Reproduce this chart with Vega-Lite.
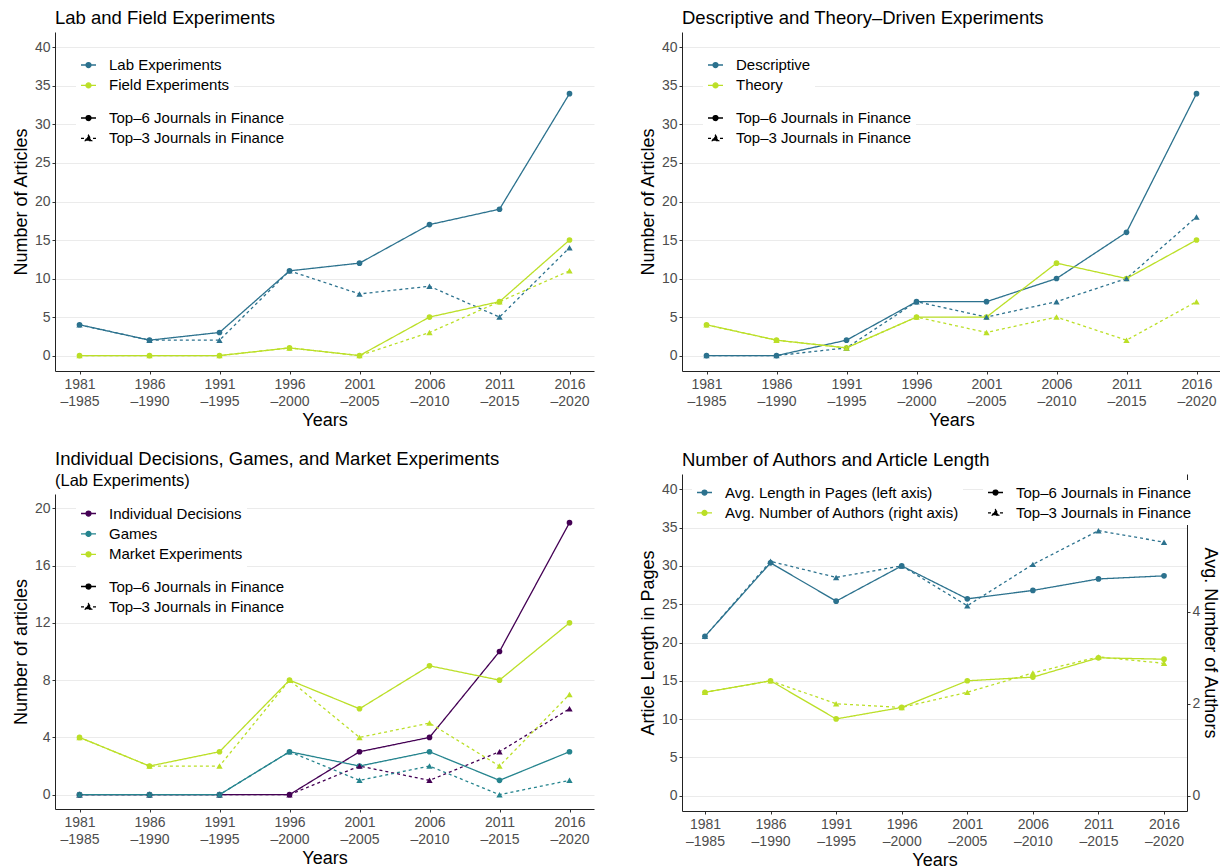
{
  "$schema": "https://vega.github.io/schema/vega-lite/v6.json",
  "padding": {"left": 12, "top": 8, "right": 0, "bottom": 0},
  "columns": 2,
  "align": "none",
  "spacing": {"row": 21, "column": 45},
  "resolve": {"scale": {"color": "independent", "strokeDash": "independent"}},
  "datasets": {
    "p1": [
      {"p":"1981-1985","s":"Lab Experiments","j":"Top–6 Journals in Finance","v":4},
      {"p":"1986-1990","s":"Lab Experiments","j":"Top–6 Journals in Finance","v":2},
      {"p":"1991-1995","s":"Lab Experiments","j":"Top–6 Journals in Finance","v":3},
      {"p":"1996-2000","s":"Lab Experiments","j":"Top–6 Journals in Finance","v":11},
      {"p":"2001-2005","s":"Lab Experiments","j":"Top–6 Journals in Finance","v":12},
      {"p":"2006-2010","s":"Lab Experiments","j":"Top–6 Journals in Finance","v":17},
      {"p":"2011-2015","s":"Lab Experiments","j":"Top–6 Journals in Finance","v":19},
      {"p":"2016-2020","s":"Lab Experiments","j":"Top–6 Journals in Finance","v":34},
      {"p":"1981-1985","s":"Lab Experiments","j":"Top–3 Journals in Finance","v":4},
      {"p":"1986-1990","s":"Lab Experiments","j":"Top–3 Journals in Finance","v":2},
      {"p":"1991-1995","s":"Lab Experiments","j":"Top–3 Journals in Finance","v":2},
      {"p":"1996-2000","s":"Lab Experiments","j":"Top–3 Journals in Finance","v":11},
      {"p":"2001-2005","s":"Lab Experiments","j":"Top–3 Journals in Finance","v":8},
      {"p":"2006-2010","s":"Lab Experiments","j":"Top–3 Journals in Finance","v":9},
      {"p":"2011-2015","s":"Lab Experiments","j":"Top–3 Journals in Finance","v":5},
      {"p":"2016-2020","s":"Lab Experiments","j":"Top–3 Journals in Finance","v":14},
      {"p":"1981-1985","s":"Field Experiments","j":"Top–6 Journals in Finance","v":0},
      {"p":"1986-1990","s":"Field Experiments","j":"Top–6 Journals in Finance","v":0},
      {"p":"1991-1995","s":"Field Experiments","j":"Top–6 Journals in Finance","v":0},
      {"p":"1996-2000","s":"Field Experiments","j":"Top–6 Journals in Finance","v":1},
      {"p":"2001-2005","s":"Field Experiments","j":"Top–6 Journals in Finance","v":0},
      {"p":"2006-2010","s":"Field Experiments","j":"Top–6 Journals in Finance","v":5},
      {"p":"2011-2015","s":"Field Experiments","j":"Top–6 Journals in Finance","v":7},
      {"p":"2016-2020","s":"Field Experiments","j":"Top–6 Journals in Finance","v":15},
      {"p":"1981-1985","s":"Field Experiments","j":"Top–3 Journals in Finance","v":0},
      {"p":"1986-1990","s":"Field Experiments","j":"Top–3 Journals in Finance","v":0},
      {"p":"1991-1995","s":"Field Experiments","j":"Top–3 Journals in Finance","v":0},
      {"p":"1996-2000","s":"Field Experiments","j":"Top–3 Journals in Finance","v":1},
      {"p":"2001-2005","s":"Field Experiments","j":"Top–3 Journals in Finance","v":0},
      {"p":"2006-2010","s":"Field Experiments","j":"Top–3 Journals in Finance","v":3},
      {"p":"2011-2015","s":"Field Experiments","j":"Top–3 Journals in Finance","v":7},
      {"p":"2016-2020","s":"Field Experiments","j":"Top–3 Journals in Finance","v":11}
    ],
    "p2": [
      {"p":"1981-1985","s":"Descriptive","j":"Top–6 Journals in Finance","v":0},
      {"p":"1986-1990","s":"Descriptive","j":"Top–6 Journals in Finance","v":0},
      {"p":"1991-1995","s":"Descriptive","j":"Top–6 Journals in Finance","v":2},
      {"p":"1996-2000","s":"Descriptive","j":"Top–6 Journals in Finance","v":7},
      {"p":"2001-2005","s":"Descriptive","j":"Top–6 Journals in Finance","v":7},
      {"p":"2006-2010","s":"Descriptive","j":"Top–6 Journals in Finance","v":10},
      {"p":"2011-2015","s":"Descriptive","j":"Top–6 Journals in Finance","v":16},
      {"p":"2016-2020","s":"Descriptive","j":"Top–6 Journals in Finance","v":34},
      {"p":"1981-1985","s":"Descriptive","j":"Top–3 Journals in Finance","v":0},
      {"p":"1986-1990","s":"Descriptive","j":"Top–3 Journals in Finance","v":0},
      {"p":"1991-1995","s":"Descriptive","j":"Top–3 Journals in Finance","v":1},
      {"p":"1996-2000","s":"Descriptive","j":"Top–3 Journals in Finance","v":7},
      {"p":"2001-2005","s":"Descriptive","j":"Top–3 Journals in Finance","v":5},
      {"p":"2006-2010","s":"Descriptive","j":"Top–3 Journals in Finance","v":7},
      {"p":"2011-2015","s":"Descriptive","j":"Top–3 Journals in Finance","v":10},
      {"p":"2016-2020","s":"Descriptive","j":"Top–3 Journals in Finance","v":18},
      {"p":"1981-1985","s":"Theory","j":"Top–6 Journals in Finance","v":4},
      {"p":"1986-1990","s":"Theory","j":"Top–6 Journals in Finance","v":2},
      {"p":"1991-1995","s":"Theory","j":"Top–6 Journals in Finance","v":1},
      {"p":"1996-2000","s":"Theory","j":"Top–6 Journals in Finance","v":5},
      {"p":"2001-2005","s":"Theory","j":"Top–6 Journals in Finance","v":5},
      {"p":"2006-2010","s":"Theory","j":"Top–6 Journals in Finance","v":12},
      {"p":"2011-2015","s":"Theory","j":"Top–6 Journals in Finance","v":10},
      {"p":"2016-2020","s":"Theory","j":"Top–6 Journals in Finance","v":15},
      {"p":"1981-1985","s":"Theory","j":"Top–3 Journals in Finance","v":4},
      {"p":"1986-1990","s":"Theory","j":"Top–3 Journals in Finance","v":2},
      {"p":"1991-1995","s":"Theory","j":"Top–3 Journals in Finance","v":1},
      {"p":"1996-2000","s":"Theory","j":"Top–3 Journals in Finance","v":5},
      {"p":"2001-2005","s":"Theory","j":"Top–3 Journals in Finance","v":3},
      {"p":"2006-2010","s":"Theory","j":"Top–3 Journals in Finance","v":5},
      {"p":"2011-2015","s":"Theory","j":"Top–3 Journals in Finance","v":2},
      {"p":"2016-2020","s":"Theory","j":"Top–3 Journals in Finance","v":7}
    ],
    "p3": [
      {"p":"1981-1985","s":"Individual Decisions","j":"Top–6 Journals in Finance","v":0},
      {"p":"1986-1990","s":"Individual Decisions","j":"Top–6 Journals in Finance","v":0},
      {"p":"1991-1995","s":"Individual Decisions","j":"Top–6 Journals in Finance","v":0},
      {"p":"1996-2000","s":"Individual Decisions","j":"Top–6 Journals in Finance","v":0},
      {"p":"2001-2005","s":"Individual Decisions","j":"Top–6 Journals in Finance","v":3},
      {"p":"2006-2010","s":"Individual Decisions","j":"Top–6 Journals in Finance","v":4},
      {"p":"2011-2015","s":"Individual Decisions","j":"Top–6 Journals in Finance","v":10},
      {"p":"2016-2020","s":"Individual Decisions","j":"Top–6 Journals in Finance","v":19},
      {"p":"1981-1985","s":"Individual Decisions","j":"Top–3 Journals in Finance","v":0},
      {"p":"1986-1990","s":"Individual Decisions","j":"Top–3 Journals in Finance","v":0},
      {"p":"1991-1995","s":"Individual Decisions","j":"Top–3 Journals in Finance","v":0},
      {"p":"1996-2000","s":"Individual Decisions","j":"Top–3 Journals in Finance","v":0},
      {"p":"2001-2005","s":"Individual Decisions","j":"Top–3 Journals in Finance","v":2},
      {"p":"2006-2010","s":"Individual Decisions","j":"Top–3 Journals in Finance","v":1},
      {"p":"2011-2015","s":"Individual Decisions","j":"Top–3 Journals in Finance","v":3},
      {"p":"2016-2020","s":"Individual Decisions","j":"Top–3 Journals in Finance","v":6},
      {"p":"1981-1985","s":"Games","j":"Top–6 Journals in Finance","v":0},
      {"p":"1986-1990","s":"Games","j":"Top–6 Journals in Finance","v":0},
      {"p":"1991-1995","s":"Games","j":"Top–6 Journals in Finance","v":0},
      {"p":"1996-2000","s":"Games","j":"Top–6 Journals in Finance","v":3},
      {"p":"2001-2005","s":"Games","j":"Top–6 Journals in Finance","v":2},
      {"p":"2006-2010","s":"Games","j":"Top–6 Journals in Finance","v":3},
      {"p":"2011-2015","s":"Games","j":"Top–6 Journals in Finance","v":1},
      {"p":"2016-2020","s":"Games","j":"Top–6 Journals in Finance","v":3},
      {"p":"1981-1985","s":"Games","j":"Top–3 Journals in Finance","v":0},
      {"p":"1986-1990","s":"Games","j":"Top–3 Journals in Finance","v":0},
      {"p":"1991-1995","s":"Games","j":"Top–3 Journals in Finance","v":0},
      {"p":"1996-2000","s":"Games","j":"Top–3 Journals in Finance","v":3},
      {"p":"2001-2005","s":"Games","j":"Top–3 Journals in Finance","v":1},
      {"p":"2006-2010","s":"Games","j":"Top–3 Journals in Finance","v":2},
      {"p":"2011-2015","s":"Games","j":"Top–3 Journals in Finance","v":0},
      {"p":"2016-2020","s":"Games","j":"Top–3 Journals in Finance","v":1},
      {"p":"1981-1985","s":"Market Experiments","j":"Top–6 Journals in Finance","v":4},
      {"p":"1986-1990","s":"Market Experiments","j":"Top–6 Journals in Finance","v":2},
      {"p":"1991-1995","s":"Market Experiments","j":"Top–6 Journals in Finance","v":3},
      {"p":"1996-2000","s":"Market Experiments","j":"Top–6 Journals in Finance","v":8},
      {"p":"2001-2005","s":"Market Experiments","j":"Top–6 Journals in Finance","v":6},
      {"p":"2006-2010","s":"Market Experiments","j":"Top–6 Journals in Finance","v":9},
      {"p":"2011-2015","s":"Market Experiments","j":"Top–6 Journals in Finance","v":8},
      {"p":"2016-2020","s":"Market Experiments","j":"Top–6 Journals in Finance","v":12},
      {"p":"1981-1985","s":"Market Experiments","j":"Top–3 Journals in Finance","v":4},
      {"p":"1986-1990","s":"Market Experiments","j":"Top–3 Journals in Finance","v":2},
      {"p":"1991-1995","s":"Market Experiments","j":"Top–3 Journals in Finance","v":2},
      {"p":"1996-2000","s":"Market Experiments","j":"Top–3 Journals in Finance","v":8},
      {"p":"2001-2005","s":"Market Experiments","j":"Top–3 Journals in Finance","v":4},
      {"p":"2006-2010","s":"Market Experiments","j":"Top–3 Journals in Finance","v":5},
      {"p":"2011-2015","s":"Market Experiments","j":"Top–3 Journals in Finance","v":2},
      {"p":"2016-2020","s":"Market Experiments","j":"Top–3 Journals in Finance","v":7}
    ],
    "pages": [
      {"p":"1981-1985","s":"Avg. Length in Pages (left axis)","j":"Top–6 Journals in Finance","v":20.8},
      {"p":"1986-1990","s":"Avg. Length in Pages (left axis)","j":"Top–6 Journals in Finance","v":30.4},
      {"p":"1991-1995","s":"Avg. Length in Pages (left axis)","j":"Top–6 Journals in Finance","v":25.4},
      {"p":"1996-2000","s":"Avg. Length in Pages (left axis)","j":"Top–6 Journals in Finance","v":30.0},
      {"p":"2001-2005","s":"Avg. Length in Pages (left axis)","j":"Top–6 Journals in Finance","v":25.7},
      {"p":"2006-2010","s":"Avg. Length in Pages (left axis)","j":"Top–6 Journals in Finance","v":26.8},
      {"p":"2011-2015","s":"Avg. Length in Pages (left axis)","j":"Top–6 Journals in Finance","v":28.3},
      {"p":"2016-2020","s":"Avg. Length in Pages (left axis)","j":"Top–6 Journals in Finance","v":28.7},
      {"p":"1981-1985","s":"Avg. Length in Pages (left axis)","j":"Top–3 Journals in Finance","v":20.8},
      {"p":"1986-1990","s":"Avg. Length in Pages (left axis)","j":"Top–3 Journals in Finance","v":30.6},
      {"p":"1991-1995","s":"Avg. Length in Pages (left axis)","j":"Top–3 Journals in Finance","v":28.5},
      {"p":"1996-2000","s":"Avg. Length in Pages (left axis)","j":"Top–3 Journals in Finance","v":30.0},
      {"p":"2001-2005","s":"Avg. Length in Pages (left axis)","j":"Top–3 Journals in Finance","v":24.8},
      {"p":"2006-2010","s":"Avg. Length in Pages (left axis)","j":"Top–3 Journals in Finance","v":30.2},
      {"p":"2011-2015","s":"Avg. Length in Pages (left axis)","j":"Top–3 Journals in Finance","v":34.6},
      {"p":"2016-2020","s":"Avg. Length in Pages (left axis)","j":"Top–3 Journals in Finance","v":33.1}
    ],
    "authors": [
      {"p":"1981-1985","s":"Avg. Number of Authors (right axis)","j":"Top–6 Journals in Finance","v":2.25},
      {"p":"1986-1990","s":"Avg. Number of Authors (right axis)","j":"Top–6 Journals in Finance","v":2.5},
      {"p":"1991-1995","s":"Avg. Number of Authors (right axis)","j":"Top–6 Journals in Finance","v":1.67},
      {"p":"1996-2000","s":"Avg. Number of Authors (right axis)","j":"Top–6 Journals in Finance","v":1.92},
      {"p":"2001-2005","s":"Avg. Number of Authors (right axis)","j":"Top–6 Journals in Finance","v":2.5},
      {"p":"2006-2010","s":"Avg. Number of Authors (right axis)","j":"Top–6 Journals in Finance","v":2.58},
      {"p":"2011-2015","s":"Avg. Number of Authors (right axis)","j":"Top–6 Journals in Finance","v":3.0},
      {"p":"2016-2020","s":"Avg. Number of Authors (right axis)","j":"Top–6 Journals in Finance","v":2.97},
      {"p":"1981-1985","s":"Avg. Number of Authors (right axis)","j":"Top–3 Journals in Finance","v":2.25},
      {"p":"1986-1990","s":"Avg. Number of Authors (right axis)","j":"Top–3 Journals in Finance","v":2.5},
      {"p":"1991-1995","s":"Avg. Number of Authors (right axis)","j":"Top–3 Journals in Finance","v":2.0},
      {"p":"1996-2000","s":"Avg. Number of Authors (right axis)","j":"Top–3 Journals in Finance","v":1.92},
      {"p":"2001-2005","s":"Avg. Number of Authors (right axis)","j":"Top–3 Journals in Finance","v":2.25},
      {"p":"2006-2010","s":"Avg. Number of Authors (right axis)","j":"Top–3 Journals in Finance","v":2.67},
      {"p":"2011-2015","s":"Avg. Number of Authors (right axis)","j":"Top–3 Journals in Finance","v":3.02},
      {"p":"2016-2020","s":"Avg. Number of Authors (right axis)","j":"Top–3 Journals in Finance","v":2.88}
    ]
  },
  "concat": [
    {
      "width": 539, "height": 339,
      "title": {"text": "Lab and Field Experiments"},
      "data": {"name": "p1"},
      "encoding": {
        "x": {"field": "p", "type": "ordinal", "scale": {"type": "point", "padding": 0.35}, "axis": {"title": "Years", "labelAngle": 0, "labelExpr": "[slice(datum.label,0,4), '–' + slice(datum.label,5)]", "labelLineHeight": 17}},
        "y": {"field": "v", "type": "quantitative", "scale": {"domain": [-2, 42], "nice": false, "zero": false}, "axis": {"title": "Number of Articles", "values": [0,5,10,15,20,25,30,35,40]}},
        "color": {"field": "s", "type": "nominal", "scale": {"domain": ["Lab Experiments", "Field Experiments"], "range": ["#2c728e", "#bbdf27"]},
          "legend": {"title": null, "orient": "none", "legendX": 21, "legendY": 20.5, "symbolSize": 225, "labelOffset": 12, "rowPadding": 3.4, "padding": 4, "fillColor": "white", "labelFontSize": 15, "labelColor": "black", "labelLimit": 400,
            "encode": {"symbols": {"update": {
              "shape": {"value": "M-1,0L1,0M0.33,0A0.33,0.33,0,1,1,-0.33,0A0.33,0.33,0,1,1,0.33,0Z"},
              "fill": {"signal": "datum.value === 'Lab Experiments' ? '#2c728e' : '#bbdf27'"},
              "stroke": {"signal": "datum.value === 'Lab Experiments' ? '#2c728e' : '#bbdf27'"},
              "strokeWidth": {"value": 1.3}, "opacity": {"value": 1}}}}}}
      },
      "layer": [
        {"mark": {"type": "line", "strokeWidth": 1.3},
         "encoding": {"strokeDash": {"field": "j", "type": "nominal", "scale": {"domain": ["Top–6 Journals in Finance", "Top–3 Journals in Finance"], "range": [[1,0],[3,3]]},
           "legend": {"title": null, "orient": "none", "legendX": 21, "legendY": 73.5, "symbolSize": 225, "labelOffset": 12, "rowPadding": 3.4, "padding": 4, "fillColor": "white", "labelFontSize": 15, "labelColor": "black", "labelLimit": 400,
             "encode": {"symbols": {"update": {
               "shape": {"signal": "datum.value === 'Top–6 Journals in Finance' ? 'M-1,0L1,0M0.33,0A0.33,0.33,0,1,1,-0.33,0A0.33,0.33,0,1,1,0.33,0Z' : 'M-1,0L1,0M0,-0.42L0.42,0.3L-0.42,0.3Z'"},
               "fill": {"value": "black"}, "stroke": {"value": "black"}, "strokeWidth": {"value": 1.3}, "opacity": {"value": 1},
               "strokeDash": {"signal": "datum.value === 'Top–6 Journals in Finance' ? [1,0] : [2.5,2.5]"}}}}}}}},
        {"transform": [{"filter": {"field": "j", "equal": "Top–6 Journals in Finance"}}], "mark": {"type": "point", "filled": true, "size": 32, "opacity": 1, "shape": "circle"}},
        {"transform": [{"filter": {"field": "j", "equal": "Top–3 Journals in Finance"}}], "mark": {"type": "point", "filled": true, "size": 40, "opacity": 1, "shape": "triangle-up"}}
      ]
    },
    {
      "width": 539, "height": 339,
      "title": {"text": "Descriptive and Theory–Driven Experiments"},
      "data": {"name": "p2"},
      "encoding": {
        "x": {"field": "p", "type": "ordinal", "scale": {"type": "point", "padding": 0.35}, "axis": {"title": "Years", "labelAngle": 0, "labelExpr": "[slice(datum.label,0,4), '–' + slice(datum.label,5)]", "labelLineHeight": 17}},
        "y": {"field": "v", "type": "quantitative", "scale": {"domain": [-2, 42], "nice": false, "zero": false}, "axis": {"title": "Number of Articles", "values": [0,5,10,15,20,25,30,35,40]}},
        "color": {"field": "s", "type": "nominal", "scale": {"domain": ["Descriptive", "Theory"], "range": ["#2c728e", "#bbdf27"]},
          "legend": {"title": null, "orient": "none", "legendX": 21, "legendY": 20.5, "symbolSize": 225, "labelOffset": 12, "rowPadding": 3.4, "padding": 4, "fillColor": "white", "labelFontSize": 15, "labelColor": "black", "labelLimit": 400,
            "encode": {"symbols": {"update": {
              "shape": {"value": "M-1,0L1,0M0.33,0A0.33,0.33,0,1,1,-0.33,0A0.33,0.33,0,1,1,0.33,0Z"},
              "fill": {"signal": "datum.value === 'Descriptive' ? '#2c728e' : '#bbdf27'"},
              "stroke": {"signal": "datum.value === 'Descriptive' ? '#2c728e' : '#bbdf27'"},
              "strokeWidth": {"value": 1.3}, "opacity": {"value": 1}}}}}}
      },
      "layer": [
        {"mark": {"type": "line", "strokeWidth": 1.3},
         "encoding": {"strokeDash": {"field": "j", "type": "nominal", "scale": {"domain": ["Top–6 Journals in Finance", "Top–3 Journals in Finance"], "range": [[1,0],[3,3]]},
           "legend": {"title": null, "orient": "none", "legendX": 21, "legendY": 73.5, "symbolSize": 225, "labelOffset": 12, "rowPadding": 3.4, "padding": 4, "fillColor": "white", "labelFontSize": 15, "labelColor": "black", "labelLimit": 400,
             "encode": {"symbols": {"update": {
               "shape": {"signal": "datum.value === 'Top–6 Journals in Finance' ? 'M-1,0L1,0M0.33,0A0.33,0.33,0,1,1,-0.33,0A0.33,0.33,0,1,1,0.33,0Z' : 'M-1,0L1,0M0,-0.42L0.42,0.3L-0.42,0.3Z'"},
               "fill": {"value": "black"}, "stroke": {"value": "black"}, "strokeWidth": {"value": 1.3}, "opacity": {"value": 1},
               "strokeDash": {"signal": "datum.value === 'Top–6 Journals in Finance' ? [1,0] : [2.5,2.5]"}}}}}}}},
        {"transform": [{"filter": {"field": "j", "equal": "Top–6 Journals in Finance"}}], "mark": {"type": "point", "filled": true, "size": 32, "opacity": 1, "shape": "circle"}},
        {"transform": [{"filter": {"field": "j", "equal": "Top–3 Journals in Finance"}}], "mark": {"type": "point", "filled": true, "size": 40, "opacity": 1, "shape": "triangle-up"}}
      ]
    },
    {
      "width": 539, "height": 315,
      "title": {"text": "Individual Decisions, Games, and Market Experiments", "subtitle": "(Lab Experiments)"},
      "data": {"name": "p3"},
      "encoding": {
        "x": {"field": "p", "type": "ordinal", "scale": {"type": "point", "padding": 0.35}, "axis": {"title": "Years", "labelAngle": 0, "labelExpr": "[slice(datum.label,0,4), '–' + slice(datum.label,5)]", "labelLineHeight": 17}},
        "y": {"field": "v", "type": "quantitative", "scale": {"domain": [-1, 21], "nice": false, "zero": false}, "axis": {"title": "Number of articles", "values": [0,4,8,12,16,20]}},
        "color": {"field": "s", "type": "nominal", "scale": {"domain": ["Individual Decisions", "Games", "Market Experiments"], "range": ["#440154", "#25848e", "#bbdf27"]},
          "legend": {"title": null, "orient": "none", "legendX": 21, "legendY": 7, "symbolSize": 225, "labelOffset": 12, "rowPadding": 3.4, "padding": 4, "fillColor": "white", "labelFontSize": 15, "labelColor": "black", "labelLimit": 400,
            "encode": {"symbols": {"update": {
              "shape": {"value": "M-1,0L1,0M0.33,0A0.33,0.33,0,1,1,-0.33,0A0.33,0.33,0,1,1,0.33,0Z"},
              "fill": {"signal": "datum.value === 'Individual Decisions' ? '#440154' : datum.value === 'Games' ? '#25848e' : '#bbdf27'"},
              "stroke": {"signal": "datum.value === 'Individual Decisions' ? '#440154' : datum.value === 'Games' ? '#25848e' : '#bbdf27'"},
              "strokeWidth": {"value": 1.3}, "opacity": {"value": 1}}}}}}
      },
      "layer": [
        {"mark": {"type": "line", "strokeWidth": 1.3},
         "encoding": {"strokeDash": {"field": "j", "type": "nominal", "scale": {"domain": ["Top–6 Journals in Finance", "Top–3 Journals in Finance"], "range": [[1,0],[3,3]]},
           "legend": {"title": null, "orient": "none", "legendX": 21, "legendY": 80, "symbolSize": 225, "labelOffset": 12, "rowPadding": 3.4, "padding": 4, "fillColor": "white", "labelFontSize": 15, "labelColor": "black", "labelLimit": 400,
             "encode": {"symbols": {"update": {
               "shape": {"signal": "datum.value === 'Top–6 Journals in Finance' ? 'M-1,0L1,0M0.33,0A0.33,0.33,0,1,1,-0.33,0A0.33,0.33,0,1,1,0.33,0Z' : 'M-1,0L1,0M0,-0.42L0.42,0.3L-0.42,0.3Z'"},
               "fill": {"value": "black"}, "stroke": {"value": "black"}, "strokeWidth": {"value": 1.3}, "opacity": {"value": 1},
               "strokeDash": {"signal": "datum.value === 'Top–6 Journals in Finance' ? [1,0] : [2.5,2.5]"}}}}}}}},
        {"transform": [{"filter": {"field": "j", "equal": "Top–6 Journals in Finance"}}], "mark": {"type": "point", "filled": true, "size": 32, "opacity": 1, "shape": "circle"}},
        {"transform": [{"filter": {"field": "j", "equal": "Top–3 Journals in Finance"}}], "mark": {"type": "point", "filled": true, "size": 40, "opacity": 1, "shape": "triangle-up"}}
      ]
    },
    {
      "width": 505, "height": 337,
      "title": {"text": "Number of Authors and Article Length"},
      "encoding": {
        "x": {"field": "p", "type": "ordinal", "scale": {"type": "point", "padding": 0.35}, "axis": {"title": "Years", "labelAngle": 0, "labelExpr": "[slice(datum.label,0,4), '–' + slice(datum.label,5)]", "labelLineHeight": 17}},
        "color": {"field": "s", "type": "nominal", "scale": {"domain": ["Avg. Length in Pages (left axis)", "Avg. Number of Authors (right axis)"], "range": ["#2c728e", "#bbdf27"]},
          "legend": {"title": null, "orient": "none", "legendX": 10, "legendY": 6, "symbolSize": 225, "labelOffset": 12, "rowPadding": 3.4, "padding": 4, "fillColor": "white", "labelFontSize": 15, "labelColor": "black", "labelLimit": 400,
            "encode": {"symbols": {"update": {
              "shape": {"value": "M-1,0L1,0M0.33,0A0.33,0.33,0,1,1,-0.33,0A0.33,0.33,0,1,1,0.33,0Z"},
              "fill": {"signal": "datum.value === 'Avg. Length in Pages (left axis)' ? '#2c728e' : '#bbdf27'"},
              "stroke": {"signal": "datum.value === 'Avg. Length in Pages (left axis)' ? '#2c728e' : '#bbdf27'"},
              "strokeWidth": {"value": 1.3}, "opacity": {"value": 1}}}}}}
      },
      "layer": [
        {
          "data": {"name": "pages"},
          "encoding": {"y": {"field": "v", "type": "quantitative", "scale": {"domain": [-2, 42], "nice": false, "zero": false}, "axis": {"title": "Article Length in Pages", "values": [0,5,10,15,20,25,30,35,40]}}},
          "layer": [
            {"mark": {"type": "line", "strokeWidth": 1.3},
             "encoding": {"strokeDash": {"field": "j", "type": "nominal", "scale": {"domain": ["Top–6 Journals in Finance", "Top–3 Journals in Finance"], "range": [[1,0],[3,3]]},
               "legend": {"title": null, "orient": "none", "legendX": 301, "legendY": 6, "symbolSize": 225, "labelOffset": 12, "rowPadding": 3.4, "padding": 4, "fillColor": "white", "labelFontSize": 15, "labelColor": "black", "labelLimit": 400,
                 "encode": {"symbols": {"update": {
                   "shape": {"signal": "datum.value === 'Top–6 Journals in Finance' ? 'M-1,0L1,0M0.33,0A0.33,0.33,0,1,1,-0.33,0A0.33,0.33,0,1,1,0.33,0Z' : 'M-1,0L1,0M0,-0.42L0.42,0.3L-0.42,0.3Z'"},
                   "fill": {"value": "black"}, "stroke": {"value": "black"}, "strokeWidth": {"value": 1.3}, "opacity": {"value": 1},
                   "strokeDash": {"signal": "datum.value === 'Top–6 Journals in Finance' ? [1,0] : [2.5,2.5]"}}}}}}}},
            {"transform": [{"filter": {"field": "j", "equal": "Top–6 Journals in Finance"}}], "mark": {"type": "point", "filled": true, "size": 32, "opacity": 1, "shape": "circle"}},
            {"transform": [{"filter": {"field": "j", "equal": "Top–3 Journals in Finance"}}], "mark": {"type": "point", "filled": true, "size": 40, "opacity": 1, "shape": "triangle-up"}}
          ]
        },
        {
          "data": {"name": "authors"},
          "encoding": {"y": {"field": "v", "type": "quantitative", "scale": {"domain": [-0.3333, 7], "nice": false, "zero": false}, "axis": {"title": "Avg. Number of Authors", "orient": "right", "grid": false, "values": [0,2,4], "titlePadding": 1, "labelPadding": 2}}},
          "layer": [
            {"mark": {"type": "line", "strokeWidth": 1.3},
             "encoding": {"strokeDash": {"field": "j", "type": "nominal", "scale": {"domain": ["Top–6 Journals in Finance", "Top–3 Journals in Finance"], "range": [[1,0],[3,3]]}, "legend": null}}},
            {"transform": [{"filter": {"field": "j", "equal": "Top–6 Journals in Finance"}}], "mark": {"type": "point", "filled": true, "size": 32, "opacity": 1, "shape": "circle"}},
            {"transform": [{"filter": {"field": "j", "equal": "Top–3 Journals in Finance"}}], "mark": {"type": "point", "filled": true, "size": 40, "opacity": 1, "shape": "triangle-up"}}
          ]
        }
      ],
      "resolve": {"scale": {"y": "independent"}}
    }
  ],
  "config": {
    "font": "Liberation Sans",
    "view": {"stroke": null},
    "axis": {"labelFontSize": 14, "labelColor": "#4d4d4d", "titleFontSize": 18, "titleFontWeight": "normal", "titleColor": "black", "tickColor": "#333333", "tickSize": 3, "domainColor": "#222222", "gridColor": "#ebebeb", "labelPadding": 2, "titlePadding": 4},
    "axisX": {"grid": false, "titlePadding": 3, "labelPadding": 3},
    "axisY": {"grid": true},
    "title": {"anchor": "start", "fontSize": 18.5, "fontWeight": "normal", "color": "black", "frame": "group", "offset": 5, "subtitleFontSize": 16.5, "subtitleColor": "black", "subtitlePadding": 4}
  }
}
